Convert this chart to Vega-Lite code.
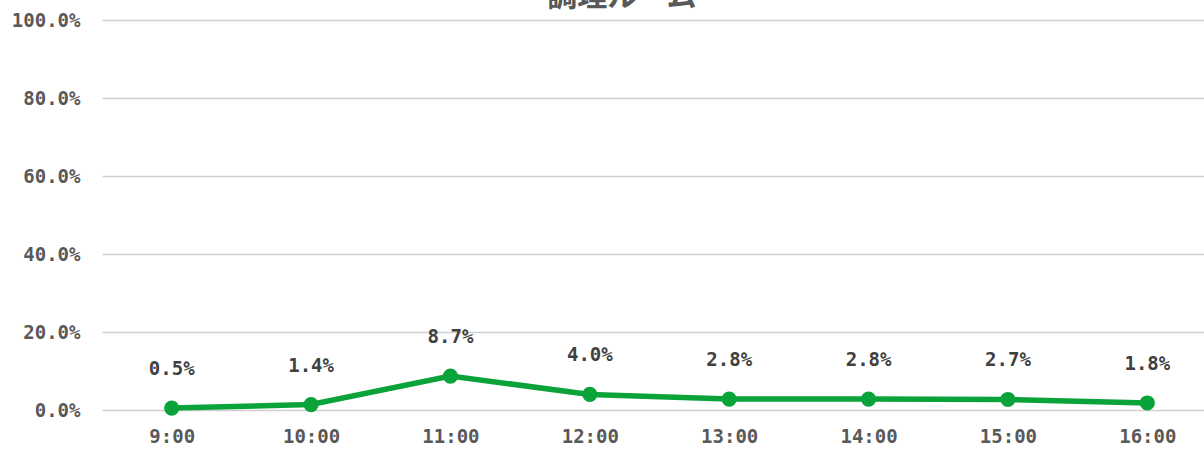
{
  "$schema": "https://vega.github.io/schema/vega-lite/v6.json",
  "autosize": "none",
  "padding": {"left": 102, "top": 20, "right": 0, "bottom": 41},
  "width": 1115,
  "height": 390,
  "background": "white",
  "title": {"text": "調理ルーム", "fontSize": 30, "font": "Noto Sans CJK JP", "fontWeight": "bold", "color": "#595959", "anchor": "start", "dx": 536, "offset": -1, "baseline": "top"},
  "data": {"values": [
    {"time": "9:00", "rate": 0.005},
    {"time": "10:00", "rate": 0.014},
    {"time": "11:00", "rate": 0.087},
    {"time": "12:00", "rate": 0.040},
    {"time": "13:00", "rate": 0.028},
    {"time": "14:00", "rate": 0.028},
    {"time": "15:00", "rate": 0.027},
    {"time": "16:00", "rate": 0.018}
  ]},
  "config": {"view": {"stroke": null}},
  "encoding": {
    "x": {"field": "time", "type": "ordinal", "sort": null, "scale": {"type": "point", "padding": 0.5},
      "axis": {"title": null, "labelAngle": 0, "domain": false, "ticks": false, "grid": false, "labelPadding": 17, "labelFont": "DejaVu Sans Mono", "labelFontSize": 19, "labelFontWeight": "bold", "labelColor": "#595959"}},
    "y": {"field": "rate", "type": "quantitative", "scale": {"domain": [0, 1]},
      "axis": {"title": null, "values": [0, 0.2, 0.4, 0.6, 0.8, 1.0], "format": ".1%", "domain": false, "ticks": false, "gridColor": "#d0d0d0", "gridWidth": 1.5, "labelPadding": 22, "labelFont": "DejaVu Sans Mono", "labelFontSize": 19, "labelFontWeight": "bold", "labelColor": "#595959"}}
  },
  "layer": [
    {"mark": {"type": "line", "color": "#0aa33a", "strokeWidth": 5.5}},
    {"mark": {"type": "point", "filled": true, "opacity": 1, "color": "#0aa33a", "size": 230}},
    {"mark": {"type": "text", "dy": -29, "baseline": "bottom", "font": "DejaVu Sans Mono", "fontSize": 19, "fontWeight": "bold", "color": "#404040"},
      "encoding": {"text": {"field": "rate", "type": "quantitative", "format": ".1%"}}}
  ]
}
